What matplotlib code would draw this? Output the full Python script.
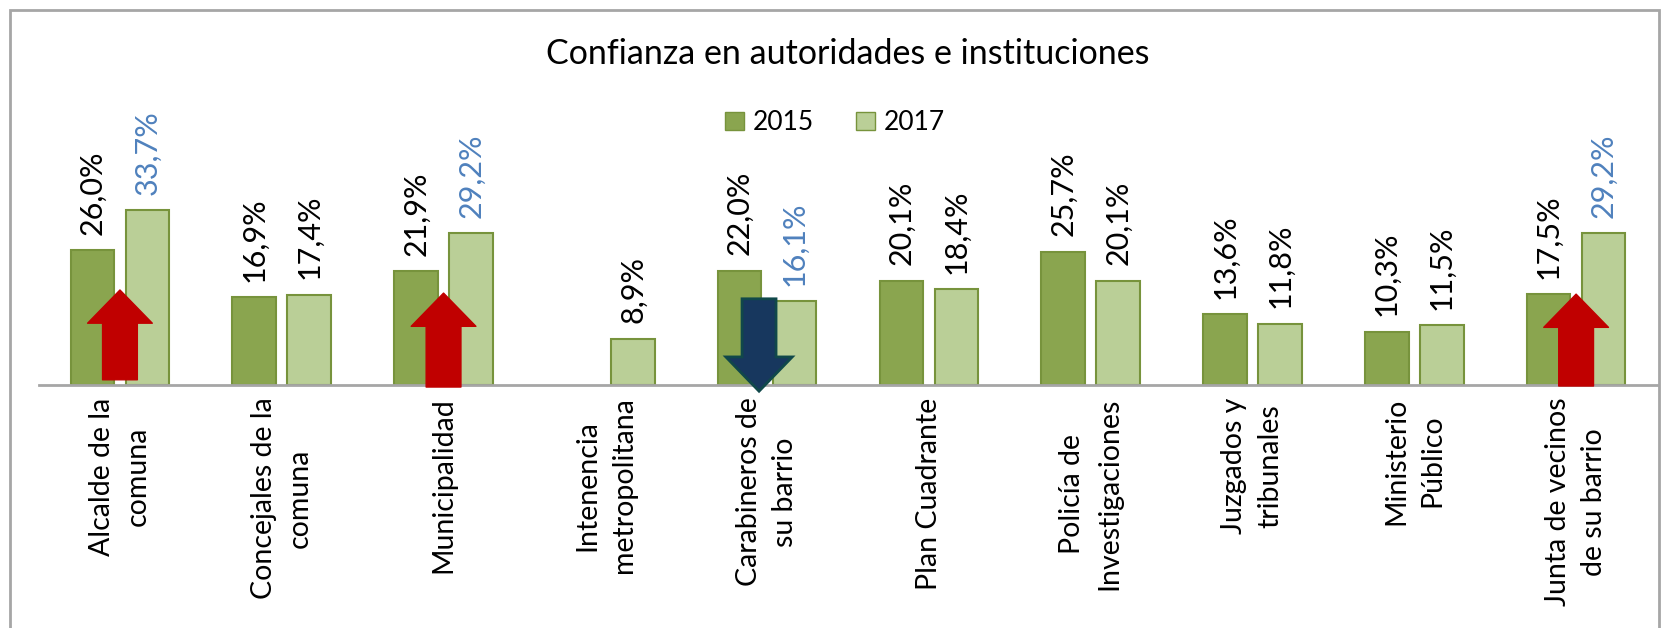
import numpy as np
import matplotlib
matplotlib.use('Agg')
import matplotlib.pyplot as plt
from matplotlib.patches import Rectangle, Patch

plt.rcParams['font.family'] = ['Lato', 'DejaVu Sans']

categorias = ['Alcalde de la\ncomuna', 'Concejales de la\ncomuna', 'Municipalidad',
              'Intenencia\nmetropolitana', 'Carabineros de\nsu barrio', 'Plan Cuadrante',
              'Policía de\nInvestigaciones', 'Juzgados y\ntribunales', 'Ministerio\nPúblico',
              'Junta de vecinos\nde su barrio']
v2015 = [26.0, 16.9, 21.9, np.nan, 22.0, 20.1, 25.7, 13.6, 10.3, 17.5]
v2017 = [33.7, 17.4, 29.2, 8.9, 16.1, 18.4, 20.1, 11.8, 11.5, 29.2]
# cambios destacados: categoria -> (inicio, fin) de la flecha en %
flechas_sube = {0: (1.0, 18.3), 2: (-0.4, 17.7), 9: (-0.2, 17.5)}
flechas_baja = {4: (16.6, -1.2)}

verde_osc = '#8AA54F'
verde_cla = '#BACF97'
borde = '#77933C'
azul = '#4F81BD'

fig = plt.figure(figsize=(16.62, 6.28), dpi=100)
ax = fig.add_axes([0.0235, 0.387, 0.9735, 0.3306])

x = np.arange(len(categorias))
off = 0.17
w = 0.27
ax.bar(x - off, v2015, w, color=verde_osc, edgecolor=borde, linewidth=1.5, label='2015')
ax.bar(x + off, v2017, w, color=verde_cla, edgecolor=borde, linewidth=1.5, label='2017')

for i in range(len(categorias)):
    if not np.isnan(v2015[i]):
        ax.annotate(f'{v2015[i]:.1f}%'.replace('.', ','), (x[i] - off, v2015[i]),
                    xytext=(0, 11), textcoords='offset points', rotation=90,
                    ha='center', va='bottom', fontsize=22, color='black')
    destacado = i in flechas_sube or i in flechas_baja
    ax.annotate(f'{v2017[i]:.1f}%'.replace('.', ','), (x[i] + off, v2017[i]),
                xytext=(0, 11), textcoords='offset points', rotation=90,
                ha='center', va='bottom', fontsize=22,
                color=azul if destacado else 'black')

for i, (y0, y1) in flechas_sube.items():
    ax.arrow(x[i], y0, 0, y1 - y0, width=0.215, head_width=0.40, head_length=6.4,
             length_includes_head=True, facecolor='#C00000', edgecolor='#C00000',
             linewidth=1, joinstyle='round', clip_on=False, zorder=5)
for i, (y0, y1) in flechas_baja.items():
    ax.arrow(x[i] - 0.05, y0, 0, y1 - y0, width=0.21, head_width=0.41, head_length=6.6,
             length_includes_head=True, facecolor='#17375E', edgecolor='#10484A',
             linewidth=2, clip_on=False, zorder=5)

ax.set_xlim(-0.5, len(categorias) - 0.5)
ax.set_ylim(0, 40)
ax.set_yticks([])
ax.set_xticks(x)
ax.set_xticklabels(categorias, rotation=90, fontsize=20.5,
                   linespacing=1.5, multialignment='center')
ax.tick_params(axis='x', length=0, pad=9)
for s in ['top', 'left', 'right']:
    ax.spines[s].set_visible(False)
ax.spines['bottom'].set_color('#A6A6A6')
ax.spines['bottom'].set_linewidth(2)

fig.text(0.51, 1 - 54 / 628, 'Confianza en autoridades e instituciones',
         ha='center', va='center', fontsize=24.5)

fig.legend(handles=[Patch(facecolor=verde_osc, edgecolor=borde, label='2015'),
                    Patch(facecolor=verde_cla, edgecolor=borde, label='2017')],
           loc='center', bbox_to_anchor=(0.5024, 1 - 122.5 / 628), ncol=2, frameon=False,
           fontsize=19, handlelength=0.7, handleheight=0.7, handletextpad=0.35,
           columnspacing=1.6)

fig.patches.append(Rectangle((10 / 1662, -0.1), 1649 / 1662, 1.1 - 10 / 628,
                             transform=fig.transFigure, fill=False,
                             edgecolor='#A6A6A6', linewidth=2))

fig.savefig('out.png', dpi=100, facecolor='white')
